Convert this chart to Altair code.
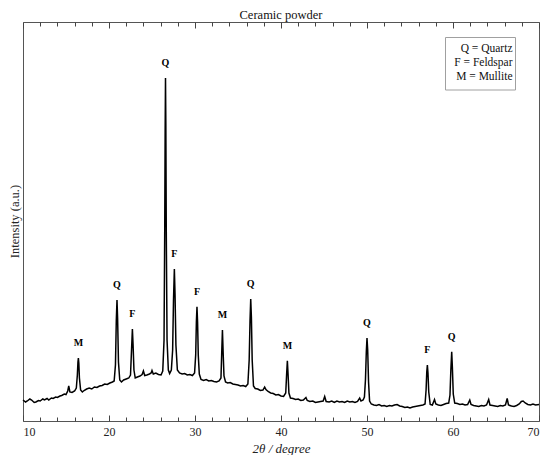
import altair as alt
import pandas as pd

# 2-theta positions (degree) and intensities (a.u.)
two_theta = [
    10.0, 10.3, 10.5, 10.8, 11.0, 11.3, 11.5, 11.8, 12.0, 12.3, 12.5, 12.8, 13.0, 13.3, 13.5, 13.8,
    14.0, 14.3, 14.5, 14.8, 15.0, 15.2, 15.32, 15.45, 15.7, 16.0, 16.2, 16.32, 16.39, 16.44, 16.49,
    16.56, 16.7, 16.9, 17.1, 17.4, 17.7, 18.0, 18.3, 18.6, 18.9, 19.2, 19.5, 19.8, 20.1, 20.4, 20.6,
    20.75, 20.85, 20.93, 21.0, 21.1, 21.25, 21.45, 21.7, 22.0, 22.3, 22.5, 22.62, 22.72, 22.8, 22.9,
    23.05, 23.3, 23.6, 23.85, 24.0, 24.15, 24.4, 24.7, 24.9, 25.0, 25.15, 25.45, 25.75, 26.05, 26.25,
    26.4, 26.48, 26.53, 26.57, 26.61, 26.66, 26.75, 26.9, 27.05, 27.25, 27.4, 27.5, 27.6, 27.68, 27.78,
    27.95, 28.2, 28.5, 28.8, 29.1, 29.4, 29.7, 29.95, 30.08, 30.16, 30.23, 30.3, 30.38, 30.5, 30.7,
    31.0, 31.3, 31.6, 31.9, 32.2, 32.5, 32.8, 33.02, 33.1, 33.19, 33.27, 33.37, 33.55, 33.8, 34.1,
    34.4, 34.7, 35.0, 35.3, 35.6, 35.9, 36.15, 36.3, 36.4, 36.48, 36.56, 36.65, 36.8, 37.0, 37.3,
    37.6, 37.9, 38.1, 38.25, 38.5, 38.8, 39.1, 39.4, 39.7, 40.0, 40.3, 40.55, 40.65, 40.74, 40.82,
    40.92, 41.1, 41.4, 41.7, 42.0, 42.3, 42.6, 42.9, 43.05, 43.35, 43.7, 44.0, 44.3, 44.6, 44.9,
    45.08, 45.25, 45.6, 45.9, 46.2, 46.5, 46.8, 47.1, 47.4, 47.7, 48.0, 48.3, 48.6, 48.9, 49.15,
    49.3, 49.55, 49.7, 49.82, 49.92, 50.0, 50.08, 50.18, 50.3, 50.5, 50.8, 51.1, 51.4, 51.7, 52.0,
    52.3, 52.6, 52.9, 53.2, 53.5, 53.8, 54.1, 54.4, 54.7, 55.0, 55.3, 55.6, 55.9, 56.2, 56.5, 56.75,
    56.87, 56.95, 57.02, 57.09, 57.18, 57.35, 57.6, 57.85, 58.0, 58.3, 58.6, 58.9, 59.2, 59.5, 59.65,
    59.75, 59.85, 59.93, 60.03, 60.2, 60.5, 60.8, 61.1, 61.4, 61.7, 61.95, 62.1, 62.4, 62.7, 63.0,
    63.3, 63.6, 63.9, 64.15, 64.3, 64.6, 64.9, 65.2, 65.5, 65.8, 66.1, 66.3, 66.45, 66.8, 67.1, 67.4,
    67.7, 67.95, 68.15, 68.4, 68.7, 69.0, 69.3, 69.6, 70.0,
]
intensity = [
    210, 190, 200, 220, 210, 185, 190, 205, 200, 220, 210, 225, 210, 230, 225, 240,
    235, 250, 255, 270, 265, 300, 350, 290, 285, 300, 330, 460, 590, 630, 580,
    430, 310, 290, 305, 320, 330, 320, 340, 335, 350, 355, 370, 365, 380, 390, 400,
    560, 1010, 1210, 1030, 590, 410, 390, 410, 420, 430, 460, 710, 920, 760, 510,
    430, 440, 450, 465, 500, 455, 460, 470, 480, 505, 470, 480, 465, 460, 500,
    810, 1910, 2910, 3430, 2960, 1910, 810, 510, 475, 510, 710, 1210, 1520, 1260, 760,
    510, 480, 470, 475, 460, 465, 455, 480, 660, 990, 1143, 990, 660, 470, 415,
    405, 415, 400, 405, 395, 390, 400, 430, 660, 910, 690, 450, 390, 380, 385,
    370, 365, 360, 350, 355, 345, 370, 610, 1010, 1220, 1030, 610, 350, 325, 320,
    305, 310, 340, 315, 295, 280, 275, 260, 265, 250, 245, 280, 460, 603, 470,
    280, 230, 225, 215, 220, 205, 210, 235, 205, 195, 200, 185, 190, 195, 200,
    245, 195, 190, 200, 185, 200, 190, 195, 185, 200, 190, 195, 185, 195, 230,
    200, 210, 240, 410, 690, 830, 710, 390, 200, 170, 160, 155, 165, 150, 155,
    145, 155, 150, 160, 165, 150, 145, 135, 140, 130, 140, 145, 150, 155, 160, 170,
    310, 490, 560, 480, 290, 165, 160, 215, 170, 160, 155, 165, 175, 180, 260,
    510, 693, 530, 270, 180, 175, 165, 170, 160, 165, 210, 165, 155, 150, 145,
    155, 150, 160, 215, 160, 155, 150, 145, 155, 150, 160, 225, 160, 150, 145, 155,
    170, 195, 200, 180, 165, 160, 170, 160, 165,
]

# Phase assignment of the labelled reflections
peak_pos = [16.44, 20.93, 22.72, 26.57, 27.6, 30.23, 33.19, 36.48, 40.74, 50.0, 57.02, 59.85]
peak_height = [630, 1210, 920, 3430, 1520, 1143, 910, 1220, 603, 830, 560, 693]
peak_label = ["M", "Q", "F", "Q", "F", "F", "M", "Q", "M", "Q", "F", "Q"]

legend_lines = ["Q = Quartz", "F = Feldspar", "M = Mullite"]
chart_title = "Ceramic powder"
y_title = "Intensity (a.u.)"

major_ticks = [10, 20, 30, 40, 50, 60, 70]
minor_ticks = [12, 14, 16, 18, 22, 24, 26, 28, 32, 34, 36, 38, 42, 44, 46, 48,
               52, 54, 56, 58, 62, 64, 66, 68]

df_line = pd.DataFrame({"two_theta": two_theta, "intensity": intensity})
df_peaks = pd.DataFrame({"pos": peak_pos, "height": peak_height, "label": peak_label})
df_legend = pd.DataFrame({"text": ["\n".join(legend_lines)]})
df_title = pd.DataFrame({"text": [chart_title]})
df_ytitle = pd.DataFrame({"text": [y_title]})

FONT = "Liberation Serif"
TICK = "#444444"
W, H = 516, 399

xscale = alt.Scale(domain=[10, 70], nice=False, zero=False)
yscale = alt.Scale(domain=[0, 3990], nice=False, zero=False)


def x_axis(orient, values, size, labels, title=None):
    kw = dict(
        orient=orient, values=values, tickSize=size, offset=-size, domain=False,
        grid=False, labels=labels, tickColor=TICK, tickWidth=1, minExtent=0,
    )
    if labels:
        kw.update(format="d", labelFont=FONT, labelFontSize=12, labelColor="#222222",
                  labelPadding=5)
    if title:
        kw.update(title=title, titleFont=FONT, titleFontSize=13, titleFontStyle="italic",
                  titleFontWeight="normal", titleColor="#222222", titlePadding=5)
    else:
        kw.update(title=None)
    return alt.Axis(**kw)


line = alt.Chart(df_line).mark_line(color="black", strokeWidth=1.5).encode(
    x=alt.X("two_theta:Q", scale=xscale,
            axis=x_axis("bottom", major_ticks, 6, True, "2θ / degree")),
    y=alt.Y("intensity:Q", scale=yscale, axis=None),
)

labels = alt.Chart(df_peaks).mark_text(
    font=FONT, fontSize=10, fontWeight="bold", color="black", dy=-15, baseline="middle"
).encode(
    x=alt.X("pos:Q", scale=xscale, axis=x_axis("bottom", minor_ticks, 4, False)),
    y=alt.Y("height:Q", scale=yscale, axis=None),
    text="label:N",
)

top_major = alt.Chart(df_peaks).mark_point(opacity=0).encode(
    x=alt.X("pos:Q", scale=xscale, axis=x_axis("top", major_ticks, 6, False)),
    y=alt.Y("height:Q", scale=yscale, axis=None),
)
top_minor = alt.Chart(df_peaks).mark_point(opacity=0).encode(
    x=alt.X("pos:Q", scale=xscale, axis=x_axis("top", minor_ticks, 4, False)),
    y=alt.Y("height:Q", scale=yscale, axis=None),
)

legend_box = alt.Chart(df_legend).mark_rect(
    fill="white", stroke="#a0a0a0", strokeWidth=1
).encode(
    x=alt.value(422.5), x2=alt.value(492.5), y=alt.value(15.5), y2=alt.value(68),
)
legend_text = alt.Chart(df_legend).mark_text(
    font=FONT, fontSize=11.5, color="#111111", align="right", baseline="top",
    lineBreak="\n", lineHeight=14,
).encode(
    x=alt.value(489.5), y=alt.value(21), text="text:N",
)

title_text = alt.Chart(df_title).mark_text(
    font=FONT, fontSize=12.5, color="#111111", align="center", baseline="middle",
).encode(
    x=alt.value(W / 2), y=alt.value(-7.5), text="text:N",
)

ytitle_text = alt.Chart(df_ytitle).mark_text(
    font=FONT, fontSize=12.5, color="#222222", align="center", baseline="middle", angle=270,
).encode(
    x=alt.value(-8.5), y=alt.value(H / 2), text="text:N",
)

chart = alt.layer(
    line, labels, top_major, top_minor, legend_box, legend_text, title_text, ytitle_text
).resolve_axis(
    x="independent"
).properties(
    width=W, height=H,
    autosize=alt.AutoSizeParams(type="none"),
    padding={"left": 15, "top": 14, "right": 3, "bottom": 34},
).configure_view(stroke="#555555", strokeWidth=1)

chart.save("out.html", embed_options={"renderer": "svg", "actions": False})
